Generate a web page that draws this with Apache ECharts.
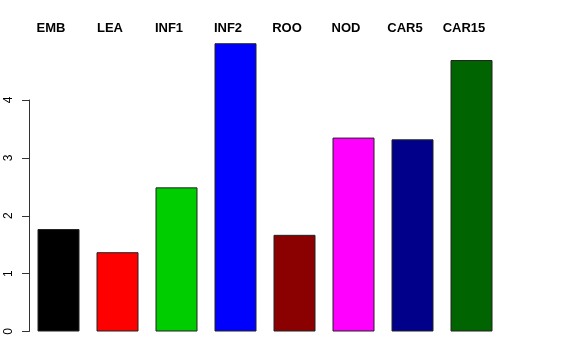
<!DOCTYPE html>
<html><head><meta charset="utf-8">
<script src="https://cdn.jsdelivr.net/npm/echarts@6/dist/echarts.min.js"></script>
<style>html,body{margin:0;padding:0;background:#fff}#c{width:576px;height:360px}</style>
</head><body><div id="c"></div>
<script>
const categories = ['EMB','LEA','INF1','INF2','ROO','NOD','CAR5','CAR15'];
const values = [1.77, 1.37, 2.49, 4.98, 1.67, 3.35, 3.32, 4.69];
const colors = ['#000000','#FF0000','#00CD00','#0000FF','#8B0000','#FF00FF','#00008B','#006400'];
const yTicks = [0, 1, 2, 3, 4];

const chart = echarts.init(document.getElementById('c'), null, {renderer:'canvas'});
chart.setOption({
  animation: false,
  backgroundColor: '#fff',
  grid: [
    {left: 29, right: 75, top: 30.5, bottom: 28.5},
    {left: 29, right: 75, top: 100, bottom: 28.5}
  ],
  xAxis: [
    {type: 'category', data: categories, gridIndex: 0, position: 'top',
     axisLine: {show: false}, axisTick: {show: false},
     axisLabel: {color: '#000', fontFamily: 'Liberation Sans', fontWeight: 'bold', fontSize: 13,
                 margin: -4, padding: [0, 15, 0, 0]}},
    {type: 'value', gridIndex: 1, show: false, min: 0, max: 1}
  ],
  yAxis: [
    {type: 'value', gridIndex: 0, min: 0, max: 5.2, show: false},
    {type: 'value', gridIndex: 1, min: yTicks[0], max: yTicks[yTicks.length-1], interval: 1,
     axisLine: {show: true, lineStyle: {color: '#333', width: 1}},
     axisTick: {show: true, length: 7, lineStyle: {color: '#333'}},
     splitLine: {show: false},
     axisLabel: {rotate: 90, margin: 14, color: '#000', fontFamily: 'Liberation Sans', fontSize: 12}}
  ],
  series: [{
    type: 'bar', xAxisIndex: 0, yAxisIndex: 0, barWidth: 42,
    data: values.map((v, i) => ({value: v, itemStyle: {color: colors[i]}})),
    itemStyle: {borderColor: '#222', borderWidth: 1}
  }]
});
</script></body></html>
